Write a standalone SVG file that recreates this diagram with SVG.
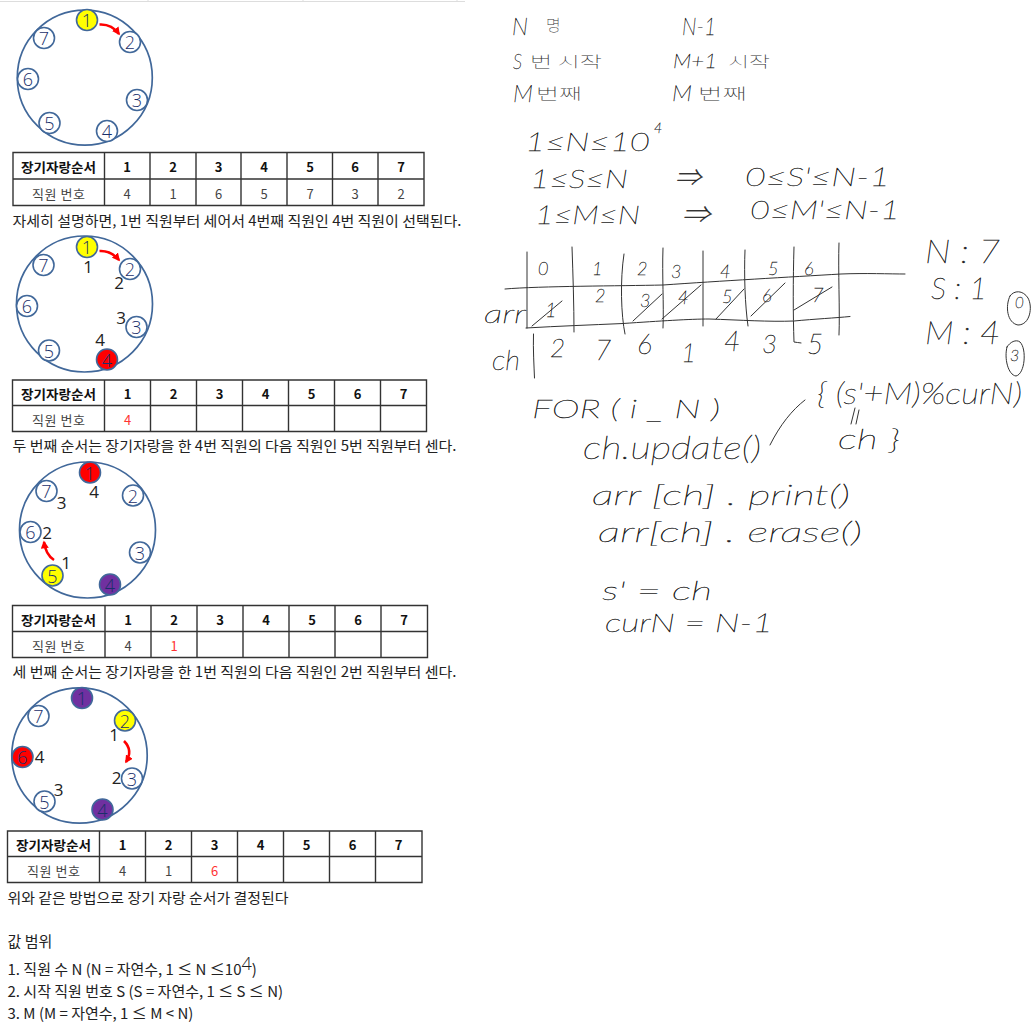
<svg xmlns="http://www.w3.org/2000/svg" width="1034" height="1025" viewBox="0 0 1034 1025">
<defs>
<marker id="arrow" viewBox="0 0 10 10" refX="8" refY="5" markerWidth="8" markerHeight="8" markerUnits="userSpaceOnUse" orient="auto"><path d="M0,0 L10,5 L0,10 Z" fill="#f00"/></marker>
</defs>
<style>
text{font-family:"Noto Sans CJK KR","Noto Sans",sans-serif}
.ring{fill:none;stroke:#41689a;stroke-width:1.7}
.n circle{fill:#fff;stroke:#41689a;stroke-width:1.6}
.y circle{fill:#ff0}
.r circle{fill:#f00}
.p circle{fill:#7030a0}
.n text{font-family:"Open Sans",sans-serif;font-weight:300;font-size:18px;fill:#1a2f6b;text-anchor:middle;dominant-baseline:central}
.cnt{font-family:"Open Sans",sans-serif;font-size:17px;fill:#222;text-anchor:middle;dominant-baseline:central}
.grid{fill:none;stroke:#333;stroke-width:1.4}
.th{font-size:13px;font-weight:700;fill:#111;text-anchor:middle;dominant-baseline:central}
.td{font-size:13px;fill:#444;text-anchor:middle;dominant-baseline:central}
.red{fill:#f33}
.cap{font-size:14px;fill:#222;dominant-baseline:central}
.cap2{font-size:15px}
.sup{font-family:"Open Sans",sans-serif;font-weight:300;font-size:18px}
.conn{fill:none;stroke:#f00;stroke-width:2.5;marker-end:url(#arrow)}
.ink{fill:none;stroke:#333;stroke-width:1;stroke-linecap:round;stroke-linejoin:round}
.hw{font-family:Lato,"Noto Sans CJK KR",sans-serif;font-weight:100;font-style:italic;fill:#222;stroke:#222;stroke-width:.4;dominant-baseline:central}
.hwk{font-family:"Noto Sans CJK KR",sans-serif;font-weight:100;fill:#333;dominant-baseline:central}
</style>
<rect width="1034" height="1025" fill="#fff"/>
<path d="M0,1.5H465M148,0V2M303,0V2M457,0V2" fill="none" stroke="#ddd" stroke-width="1"/>

<g id="diagram-1">
<circle class="ring" cx="84.8" cy="77.7" r="67.5"/>
<g id="d1-n1" class="n y"><circle cx="87" cy="20" r="10.5"/><text x="87" y="20">1</text></g>
<g id="d1-n2" class="n"><circle cx="130" cy="42" r="10.5"/><text x="130" y="42">2</text></g>
<g id="d1-n3" class="n"><circle cx="137" cy="100" r="10.5"/><text x="137" y="100">3</text></g>
<g id="d1-n4" class="n"><circle cx="107" cy="131" r="10.5"/><text x="107" y="131">4</text></g>
<g id="d1-n5" class="n"><circle cx="49.5" cy="123" r="10.5"/><text x="49.5" y="123">5</text></g>
<g id="d1-n6" class="n"><circle cx="28" cy="79" r="10.5"/><text x="28" y="79">6</text></g>
<g id="d1-n7" class="n"><circle cx="44" cy="38" r="10.5"/><text x="44" y="38">7</text></g>
</g>
<g id="table-1">
<path class="grid" d="M13,152.5H424V205.5H13ZM13,179H424M104.5,152.5V205.5M150,152.5V205.5M196,152.5V205.5M241,152.5V205.5M287,152.5V205.5M332.5,152.5V205.5M378,152.5V205.5"/>
<text class="th" x="58.5" y="166" textLength="75" lengthAdjust="spacingAndGlyphs">장기자랑순서</text><text class="th" x="127" y="166">1</text><text class="th" x="173" y="166">2</text><text class="th" x="218.500" y="166">3</text><text class="th" x="264" y="166">4</text><text class="th" x="310" y="166">5</text><text class="th" x="355" y="166">6</text><text class="th" x="401" y="166">7</text>
<text class="td" x="58.5" y="193" textLength="53">직원 번호</text><text class="td" x="127" y="193">4</text><text class="td" x="173" y="193">1</text><text class="td" x="218.500" y="193">6</text><text class="td" x="264" y="193">5</text><text class="td" x="310" y="193">7</text><text class="td" x="355" y="193">3</text><text class="td" x="401" y="193">2</text>
</g>
<text class="cap" x="12.500" y="219.500" textLength="449" lengthAdjust="spacingAndGlyphs">자세히 설명하면, 1번 직원부터 세어서 4번째 직원인 4번 직원이 선택된다.</text>

<g id="diagram-2">
<circle class="ring" cx="84.5" cy="304" r="68"/>
<g id="d2-n1" class="n y"><circle cx="87" cy="247" r="10.5"/><text x="87" y="247">1</text></g>
<g id="d2-n2" class="n"><circle cx="130" cy="269" r="10.5"/><text x="130" y="269">2</text></g>
<g id="d2-n3" class="n"><circle cx="136.500" cy="327" r="10.5"/><text x="136.500" y="327">3</text></g>
<g id="d2-n4" class="n r"><circle cx="107" cy="359.500" r="10.5"/><text x="107" y="359.500">4</text></g>
<g id="d2-n5" class="n"><circle cx="49" cy="350.500" r="10.5"/><text x="49" y="350.500">5</text></g>
<g id="d2-n6" class="n"><circle cx="27" cy="306" r="10.5"/><text x="27" y="306">6</text></g>
<g id="d2-n7" class="n"><circle cx="43.500" cy="265" r="10.5"/><text x="43.500" y="265">7</text></g>
<text class="cnt" x="88" y="266.500">1</text><text class="cnt" x="119" y="282.500">2</text><text class="cnt" x="121" y="317.500">3</text><text class="cnt" x="100" y="339.500">4</text>
</g>
<g id="table-2">
<path class="grid" d="M12.500,380H426.500V431.500H12.500ZM12.500,405.500H426.500M104.500,380V431.500M150.500,380V431.500M196.500,380V431.500M242.500,380V431.500M288.500,380V431.500M334.500,380V431.500M380.500,380V431.500"/>
<text class="th" x="58.5" y="393" textLength="75" lengthAdjust="spacingAndGlyphs">장기자랑순서</text><text class="th" x="127.500" y="393">1</text><text class="th" x="173.500" y="393">2</text><text class="th" x="219.500" y="393">3</text><text class="th" x="265.500" y="393">4</text><text class="th" x="311.500" y="393">5</text><text class="th" x="357.500" y="393">6</text><text class="th" x="403.500" y="393">7</text>
<text class="td" x="58.5" y="419" textLength="53">직원 번호</text><text class="td red" x="127.500" y="419">4</text>
</g>
<text class="cap" x="12.500" y="445" textLength="444" lengthAdjust="spacingAndGlyphs">두 번째 순서는 장기자랑을 한 4번 직원의 다음 직원인 5번 직원부터 센다.</text>

<g id="diagram-3">
<circle class="ring" cx="87.5" cy="530" r="68"/>
<g id="d3-n1" class="n r"><circle cx="90" cy="472.500" r="10.5"/><text x="90" y="472.500">1</text></g>
<g id="d3-n2" class="n"><circle cx="133" cy="495.500" r="10.5"/><text x="133" y="495.500">2</text></g>
<g id="d3-n3" class="n"><circle cx="140" cy="552.500" r="10.5"/><text x="140" y="552.500">3</text></g>
<g id="d3-n4" class="n p"><circle cx="110" cy="584.500" r="10.5"/><text x="110" y="584.500">4</text></g>
<g id="d3-n5" class="n y"><circle cx="52.5" cy="575.500" r="10.5"/><text x="52.5" y="575.500">5</text></g>
<g id="d3-n6" class="n"><circle cx="30.5" cy="532" r="10.5"/><text x="30.5" y="532">6</text></g>
<g id="d3-n7" class="n"><circle cx="46.5" cy="491" r="10.5"/><text x="46.5" y="491">7</text></g>
<text class="cnt" x="94" y="491">4</text><text class="cnt" x="61.500" y="502">3</text><text class="cnt" x="47" y="532">2</text><text class="cnt" x="66" y="562.500">1</text>
</g>
<g id="table-3">
<path class="grid" d="M12.500,605.500H427.500V657.500H12.500ZM12.500,631.500H427.500M105,605.500V657.500M151,605.500V657.500M197,605.500V657.500M243,605.500V657.500M289,605.500V657.500M335,605.500V657.500M381,605.500V657.500"/>
<text class="th" x="58.5" y="619" textLength="75" lengthAdjust="spacingAndGlyphs">장기자랑순서</text><text class="th" x="128" y="619">1</text><text class="th" x="174" y="619">2</text><text class="th" x="220" y="619">3</text><text class="th" x="266" y="619">4</text><text class="th" x="312" y="619">5</text><text class="th" x="358" y="619">6</text><text class="th" x="404" y="619">7</text>
<text class="td" x="58.5" y="645" textLength="53">직원 번호</text><text class="td" x="128" y="645">4</text><text class="td red" x="174" y="645">1</text>
</g>
<text class="cap" x="12.500" y="671" textLength="444" lengthAdjust="spacingAndGlyphs">세 번째 순서는 장기자랑을 한 1번 직원의 다음 직원인 2번 직원부터 센다.</text>

<g id="diagram-4">
<circle class="ring" cx="79.5" cy="755.500" r="67.7"/>
<g id="d4-n1" class="n p"><circle cx="82" cy="698" r="10.5"/><text x="82" y="698">1</text></g>
<g id="d4-n2" class="n y"><circle cx="125" cy="720.500" r="10.5"/><text x="125" y="720.500">2</text></g>
<g id="d4-n3" class="n"><circle cx="132" cy="778.500" r="10.5"/><text x="132" y="778.500">3</text></g>
<g id="d4-n4" class="n p"><circle cx="102.5" cy="809.500" r="10.5"/><text x="102.5" y="809.500">4</text></g>
<g id="d4-n5" class="n"><circle cx="44.500" cy="801.500" r="10.5"/><text x="44.500" y="801.500">5</text></g>
<g id="d4-n6" class="n r"><circle cx="22.5" cy="757" r="10.5"/><text x="22.5" y="757">6</text></g>
<g id="d4-n7" class="n"><circle cx="38.5" cy="716" r="10.5"/><text x="38.5" y="716">7</text></g>
<text class="cnt" x="114" y="734">1</text><text class="cnt" x="116.500" y="777">2</text><text class="cnt" x="58.500" y="789">3</text><text class="cnt" x="39.500" y="756">4</text>
</g>
<g id="table-4">
<path class="grid" d="M7.500,831H422V882.500H7.500ZM7.500,856.500H422M99.500,831V882.500M145.500,831V882.500M191.500,831V882.500M237.500,831V882.500M283.500,831V882.500M329.500,831V882.500M375.500,831V882.500"/>
<text class="th" x="53.5" y="844" textLength="75" lengthAdjust="spacingAndGlyphs">장기자랑순서</text><text class="th" x="122.500" y="844">1</text><text class="th" x="168.500" y="844">2</text><text class="th" x="214.500" y="844">3</text><text class="th" x="260.500" y="844">4</text><text class="th" x="306.500" y="844">5</text><text class="th" x="352.500" y="844">6</text><text class="th" x="398.500" y="844">7</text>
<text class="td" x="53.5" y="870" textLength="53">직원 번호</text><text class="td" x="122.500" y="870">4</text><text class="td" x="168.500" y="870">1</text><text class="td red" x="214.500" y="870">6</text>
</g>
<text class="cap" x="7.500" y="896.500" textLength="281" lengthAdjust="spacingAndGlyphs">위와 같은 방법으로 장기 자랑 순서가 결정된다</text>
<text class="cap cap2" x="7.500" y="940">값 범위</text>
<text class="cap cap2" x="7.500" y="968">1. 직원 수 N (N = 자연수, 1 ≤ N ≤10<tspan class="sup" dy="-5">4</tspan><tspan dy="5">)</tspan></text>
<text class="cap cap2" x="7.500" y="990">2. 시작 직원 번호 S (S = 자연수, 1 ≤ S ≤ N)</text>
<text class="cap cap2" x="7.500" y="1012">3. M (M = 자연수, 1 ≤ M &lt; N)</text>

<g id="connectors">
<path class="conn" d="M99.500,24.500C108,24 114,27 119,34"/>
<path class="conn" d="M99.500,251C108,250.500 114,254 119,260"/>
<path class="conn" d="M54,560C48,556 45,550 44,542"/>
<path class="conn" d="M124,741C130,747 131,754 126,762"/>
</g>

<g id="handwriting">
<text class="hw" font-size="24" x="512" y="25" textLength="16" lengthAdjust="spacingAndGlyphs">N</text>
<text class="hwk" font-size="16" x="546" y="24">명</text>
<text class="hw" font-size="24" x="682" y="25" textLength="34" lengthAdjust="spacingAndGlyphs">N-1</text>
<text class="hw" font-size="22" x="513" y="60" textLength="9" lengthAdjust="spacingAndGlyphs">S</text>
<text class="hwk" font-size="15" x="530" y="60" textLength="72" lengthAdjust="spacingAndGlyphs">번 시작</text>
<text class="hw" font-size="20" x="673" y="60" textLength="44" lengthAdjust="spacingAndGlyphs">M+1</text>
<text class="hwk" font-size="15" x="728" y="60" textLength="42" lengthAdjust="spacingAndGlyphs">시작</text>
<text class="hw" font-size="24" x="513" y="92" textLength="20" lengthAdjust="spacingAndGlyphs">M</text>
<text class="hwk" font-size="15" x="536" y="92" textLength="46" lengthAdjust="spacingAndGlyphs">번째</text>
<text class="hw" font-size="22" x="672" y="92" textLength="20" lengthAdjust="spacingAndGlyphs">M</text>
<text class="hwk" font-size="15" x="698" y="92" textLength="49" lengthAdjust="spacingAndGlyphs">번째</text>

<text class="hw" font-size="26" x="525" y="141" textLength="125" lengthAdjust="spacingAndGlyphs">1≤N≤10</text>
<text class="hw" font-size="14" x="654" y="127">4</text>
<text class="hw" font-size="26" x="530" y="178" textLength="98" lengthAdjust="spacingAndGlyphs">1≤S≤N</text>
<text class="hw" font-size="24" x="675" y="176" textLength="26" lengthAdjust="spacingAndGlyphs">⇒</text>
<text class="hw" font-size="26" x="745" y="176" textLength="145" lengthAdjust="spacingAndGlyphs">0≤S'≤N-1</text>
<text class="hw" font-size="26" x="535" y="214" textLength="105" lengthAdjust="spacingAndGlyphs">1≤M≤N</text>
<text class="hw" font-size="24" x="682" y="213" textLength="28" lengthAdjust="spacingAndGlyphs">⇒</text>
<text class="hw" font-size="26" x="750" y="209" textLength="150" lengthAdjust="spacingAndGlyphs">0≤M'≤N-1</text>

<path id="grid-sketch" class="ink" d="M505,289C540,286 620,286 663,285C720,281 790,277 841,274C865,273 890,274 905,274M526,328C560,326 590,325 623,323.500C660,321 690,319 709,319C740,320 770,322 794,321C815,319 835,318 850,316.500M527,252V328M533.500,334C533,350 534,365 534.500,378M572,247C573,275 574,305 574,332M624,254C620,280 621,315 625,334M663,248C662,275 664,305 663,328M703,251V326M745,250C744,275 745,305 748,326M794,247C793,280 793,315 794,342C796,342 799,343 801,343M839,243C838,270 840,310 839,335M532,326L562,301M633,321L662,294M662,319L701,285M716,319L744,289M751,316L785,283M794,310L832,287"/>
<g class="hwgrid">
<text class="hw" font-size="18" x="538" y="268">0</text><text class="hw" font-size="18" x="592" y="268">1</text><text class="hw" font-size="18" x="637" y="268">2</text><text class="hw" font-size="18" x="671" y="271">3</text><text class="hw" font-size="18" x="720" y="271">4</text><text class="hw" font-size="18" x="768" y="268">5</text><text class="hw" font-size="18" x="804" y="268">6</text>
<text class="hw" font-size="20" x="545" y="309">1</text><text class="hw" font-size="18" x="595" y="295">2</text><text class="hw" font-size="18" x="640" y="300">3</text><text class="hw" font-size="18" x="678" y="297">4</text><text class="hw" font-size="18" x="722" y="296">5</text><text class="hw" font-size="18" x="762" y="295">6</text><text class="hw" font-size="20" x="812" y="294">7</text>
<text class="hw" font-size="26" x="484" y="313" textLength="42" lengthAdjust="spacingAndGlyphs">arr</text>
<text class="hw" font-size="28" x="492" y="359" textLength="28" lengthAdjust="spacingAndGlyphs">ch</text>
<text class="hw" font-size="26" x="550" y="347">2</text><text class="hw" font-size="28" x="595" y="349">7</text><text class="hw" font-size="28" x="637" y="343">6</text><text class="hw" font-size="26" x="681" y="352">1</text><text class="hw" font-size="28" x="724" y="340">4</text><text class="hw" font-size="26" x="762" y="343">3</text><text class="hw" font-size="28" x="807" y="343">5</text>
</g>
<text class="hw" font-size="31" x="925" y="251" textLength="75" lengthAdjust="spacingAndGlyphs">N : 7</text>
<text class="hw" font-size="30" x="931" y="287" textLength="56" lengthAdjust="spacingAndGlyphs">S : 1</text>
<text class="hw" font-size="31" x="925" y="332" textLength="75" lengthAdjust="spacingAndGlyphs">M : 4</text>
<path class="ink" d="M1010,296C1005,306 1007,323 1018,325C1030,325 1033,307 1028,298C1023,290 1014,290 1010,296ZM1007,347C1004,358 1008,375 1016,376C1025,374 1027,349 1020,342C1016,339 1010,342 1007,347Z"/>
<text class="hw" font-size="15" x="1015" y="302">0</text>
<text class="hw" font-size="16" x="1010" y="354">3</text>

<text class="hw" font-size="26" x="532" y="408" textLength="188" lengthAdjust="spacingAndGlyphs">FOR ( i _ N )</text>
<text class="hw" font-size="31" x="583" y="447" textLength="178" lengthAdjust="spacingAndGlyphs">ch.update()</text>
<text class="hw" font-size="28" x="592" y="494" textLength="258" lengthAdjust="spacingAndGlyphs">arr [ch] . print()</text>
<text class="hw" font-size="28" x="598" y="531" textLength="264" lengthAdjust="spacingAndGlyphs">arr[ch] . erase()</text>
<text class="hw" font-size="26" x="602" y="590" textLength="110" lengthAdjust="spacingAndGlyphs">s' = ch</text>
<text class="hw" font-size="26" x="605" y="622" textLength="168" lengthAdjust="spacingAndGlyphs">curN = N-1</text>
<text class="hw" font-size="30" x="817" y="392" textLength="205" lengthAdjust="spacingAndGlyphs">{ (s'+M)%curN)</text>
<text class="hw" font-size="28" x="838" y="438" textLength="62" lengthAdjust="spacingAndGlyphs">ch }</text>
<path class="ink" d="M770,445C780,425 792,410 805,400M855,408L851,424M859,410L856,424"/>
</g>
</svg>
